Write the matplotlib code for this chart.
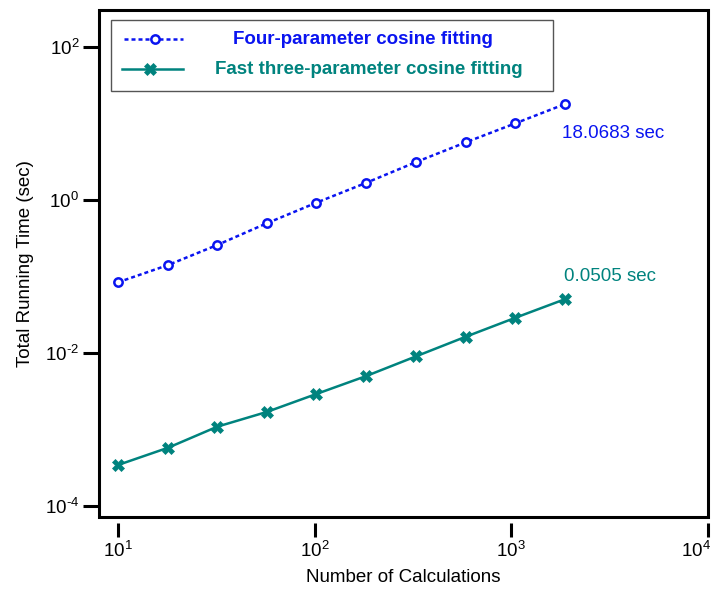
import matplotlib
matplotlib.use("Agg")
import matplotlib.pyplot as plt
from matplotlib.lines import Line2D
from matplotlib.patches import Rectangle
from matplotlib.ticker import NullLocator, FuncFormatter
from matplotlib.transforms import ScaledTranslation
import math

plt.rcParams['font.family'] = ['Liberation Sans', 'DejaVu Sans']
plt.rcParams['mathtext.fontset'] = 'custom'
plt.rcParams['mathtext.rm'] = 'Liberation Sans'
plt.rcParams['mathtext.it'] = 'Liberation Sans:italic'
plt.rcParams['mathtext.bf'] = 'Liberation Sans:bold'
plt.rcParams['axes.unicode_minus'] = False

# ---- data ----
n_calc = [10, 18, 32, 57, 102, 183, 328, 587, 1050, 1880]
four_param = [0.0837, 0.141, 0.258, 0.495, 0.922, 1.68, 3.14, 5.69, 10.1, 18.0683]
fast_three = [3.40e-4, 5.73e-4, 1.08e-3, 1.68e-3, 2.89e-3, 4.97e-3, 9.0e-3, 0.01625, 0.0288, 0.0505]
labels = ["Four-parameter cosine fitting", "Fast three-parameter cosine fitting"]
end_labels = ["18.0683 sec", "0.0505 sec"]
x_ticks = [1e1, 1e2, 1e3, 1e4]
y_ticks = [1e-4, 1e-2, 1e0, 1e2]
x_label = "Number of Calculations"
y_label = "Total Running Time (sec)"

blue = '#0a14f0'
teal = '#00837e'
FS = 13.5

W, H = 713, 590
fig = plt.figure(figsize=(W / 100, H / 100), dpi=100)
L, R, B, T = 99.3, 708.0, 516.7, 10.0
ax = fig.add_axes([L / W, 1 - B / H, (R - L) / W, (B - T) / H])

ax.set_xscale('log')
ax.set_yscale('log')
ax.set_xlim(8.04, 1e4)
ax.set_ylim(7.16e-5, 307)

ax.plot(n_calc, four_param, color=blue, lw=1.8, dashes=(1.6, 1.2),
        marker='o', ms=6, mfc='white', mec=blue, mew=1.8, zorder=3)
ax.plot(n_calc, fast_three, color=teal, lw=1.8,
        marker='X', ms=8, mfc=teal, mec=teal, mew=0.5, zorder=3)

ax.annotate(end_labels[0], xy=(n_calc[-1], four_param[-1]), xytext=(-2, -21),
            textcoords='offset points', ha='left', va='center', color=blue, fontsize=FS)
ax.annotate(end_labels[1], xy=(n_calc[-1], fast_three[-1]), xytext=(-1, 16),
            textcoords='offset points', ha='left', va='center', color=teal, fontsize=FS)


def pow_fmt(v, pos):
    e = int(round(math.log10(v)))
    if e < 0:
        return r'$\mathdefault{10^{\text{-}%d}}$' % (-e)
    return r'$\mathdefault{10^{%d}}$' % e


# ticks
ax.set_xticks(x_ticks)
ax.set_yticks(y_ticks)
ax.xaxis.set_major_formatter(FuncFormatter(pow_fmt))
ax.yaxis.set_major_formatter(FuncFormatter(pow_fmt))
ax.xaxis.set_minor_locator(NullLocator())
ax.yaxis.set_minor_locator(NullLocator())
ax.tick_params(axis='x', direction='out', length=10, width=2.2, labelsize=FS, pad=3)
ax.tick_params(axis='y', direction='out', length=11.5, width=2.2, labelsize=FS, pad=3)
ax.tick_params(top=False, right=False)

for s in ['top', 'right', 'left', 'bottom']:
    ax.spines[s].set_visible(False)
ax.spines['bottom'].set_position(('outward', 4.3))
ax.add_patch(Rectangle((0, 0), 1, 1, transform=ax.transAxes, fill=False,
                       lw=2.2, ec='black', clip_on=False, zorder=5))

# shift the last x tick label left so it stays inside the figure
last_lbl = ax.xaxis.get_major_ticks()[-1].label1
last_lbl.set_transform(last_lbl.get_transform() + ScaledTranslation(-0.12, 0, fig.dpi_scale_trans))

ax.set_xlabel(x_label, fontsize=FS)
ax.set_ylabel(y_label, fontsize=FS)
ax.xaxis.set_label_coords(0.5, (B - 578) / (B - T))
ax.yaxis.set_label_coords((26 - L) / (R - L), 0.5)
ax.xaxis.label.set_va('center')
ax.yaxis.label.set_va('center')

# manual legend (axes fraction coordinates)
def fx(px):
    return (px - L) / (R - L)

def fy(py):
    return (B - py) / (B - T)

ax.add_patch(Rectangle((fx(111), fy(90.7)), fx(553) - fx(111), fy(20) - fy(90.7),
                       transform=ax.transAxes, fill=True, fc='white', ec='#555555', lw=1.0, zorder=6))
ax.add_line(Line2D([fx(124), fx(183)], [fy(39), fy(39)], transform=ax.transAxes,
                   color=blue, lw=1.8, dashes=(1.6, 1.2), zorder=7))
ax.add_line(Line2D([fx(155)], [fy(39)], transform=ax.transAxes, color=blue,
                   marker='o', ms=6, mfc='white', mec=blue, mew=1.8, zorder=8))
ax.text(fx(363), fy(39), labels[0], transform=ax.transAxes, ha='center', va='center',
        color=blue, fontsize=FS, fontweight='bold', zorder=8)
ax.add_line(Line2D([fx(122), fx(183)], [fy(69), fy(69)], transform=ax.transAxes,
                   color=teal, lw=1.8, zorder=7))
ax.add_line(Line2D([fx(150)], [fy(69)], transform=ax.transAxes, color=teal,
                   marker='X', ms=8, mfc=teal, mec=teal, mew=0.5, zorder=8))
ax.text(fx(369), fy(69), labels[1], transform=ax.transAxes, ha='center', va='center',
        color=teal, fontsize=FS, fontweight='bold', zorder=8)

fig.savefig('out.png', dpi=100)
